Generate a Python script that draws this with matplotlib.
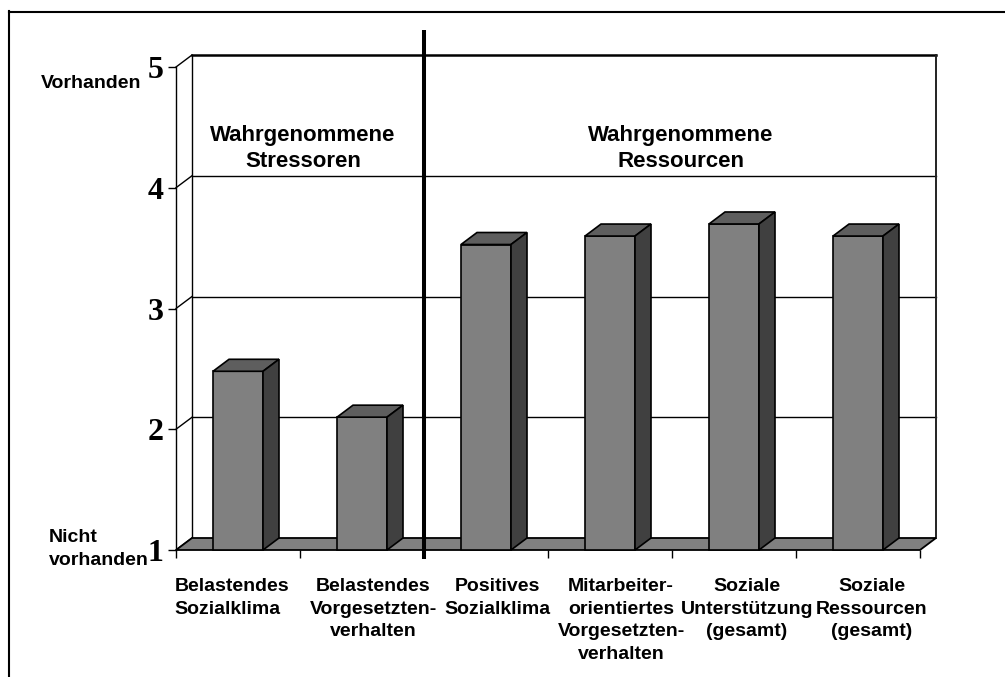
import matplotlib
matplotlib.use("Agg")
import matplotlib.pyplot as plt
from matplotlib.patches import Polygon
from matplotlib.lines import Line2D
from matplotlib.transforms import offset_copy, blended_transform_factory

# ---- data -------------------------------------------------------------
categories = [
    "Belastendes\nSozialklima",
    "Belastendes\nVorgesetzten-\nverhalten",
    "Positives\nSozialklima",
    "Mitarbeiter-\norientiertes\nVorgesetzten-\nverhalten",
    "Soziale\nUnterstützung\n(gesamt)",
    "Soziale\nRessourcen\n(gesamt)",
]
values = [2.48, 2.10, 3.53, 3.60, 3.70, 3.60]
group_titles = ["Wahrgenommene\nStressoren", "Wahrgenommene\nRessourcen"]
group_sizes = [2, 4]
y_ticks = [1, 2, 3, 4, 5]
y_tick_labels = ["1", "2", "3", "4", "5"]
scale_high = "Vorhanden"
scale_low = "Nicht\nvorhanden"

# ---- style ------------------------------------------------------------
plt.rcParams["font.family"] = ["Liberation Sans", "DejaVu Sans"]
plt.rcParams["font.weight"] = "bold"
FRONT = "#808080"
SIDE = "#404040"
TOP = "#5e5e5e"
FLOOR = "#808080"
EDGE = "black"

W, H, DPI = 1005, 677, 100
fig = plt.figure(figsize=(W / DPI, H / DPI), dpi=DPI)
fig.patch.set_facecolor("white")

# front plane of the 3-D box (pixel frame)
L_PX, R_PX, T_PX, B_PX = 176, 920, 67, 550
ax = fig.add_axes([L_PX / W, 1 - B_PX / H, (R_PX - L_PX) / W, (B_PX - T_PX) / H])
n = len(categories)
ymin, ymax = y_ticks[0], y_ticks[-1]
ax.set_xlim(0, n)
ax.set_ylim(ymin, ymax)
ax.set_facecolor("none")
for s in ax.spines.values():
    s.set_visible(False)

# depth of the box, in pixels, converted to data units
DEPTH_PX = (16, 12)
ddx = DEPTH_PX[0] * n / (R_PX - L_PX)
ddy = DEPTH_PX[1] * (ymax - ymin) / (B_PX - T_PX)

# back wall
ax.add_patch(Polygon([(ddx, ymin + ddy), (n + ddx, ymin + ddy),
                      (n + ddx, ymax + ddy), (ddx, ymax + ddy)],
                     closed=True, fc="white", ec="none", zorder=0, clip_on=False))
for v in y_ticks[1:-1]:
    ax.add_line(Line2D([ddx, n + ddx], [v + ddy, v + ddy], color=EDGE, lw=1.0,
                       zorder=1, clip_on=False))
ax.add_line(Line2D([ddx, n + ddx], [ymax + ddy, ymax + ddy], color=EDGE, lw=1.8,
                   zorder=1, clip_on=False))
ax.add_line(Line2D([n + ddx, n + ddx], [ymin + ddy, ymax + ddy], color="#222222",
                   lw=1.4, zorder=1, clip_on=False))
ax.add_line(Line2D([ddx, ddx], [ymin + ddy, ymax + ddy], color=EDGE, lw=1.0,
                   zorder=1, clip_on=False))

# left side wall: edges running back from each tick
for v in y_ticks:
    ax.add_line(Line2D([0, ddx], [v, v + ddy], color=EDGE, lw=1.0, zorder=1,
                       clip_on=False))
ax.add_line(Line2D([0, 0], [ymin, ymax], color=EDGE, lw=1.0, zorder=1,
                   clip_on=False))

# floor
ax.add_patch(Polygon([(0, ymin), (n, ymin), (n + ddx, ymin + ddy), (ddx, ymin + ddy)],
                     closed=True, fc=FLOOR, ec=EDGE, lw=1.3, zorder=2, clip_on=False))

# bars: front faces via bar(), then top and side faces
bw = 50 / 124
centers = [i + 0.5 for i in range(n)]
heights = [v - ymin for v in values]
ax.bar(centers, heights, bottom=ymin, width=bw, color=FRONT, edgecolor=EDGE,
       linewidth=1.2, zorder=4, clip_on=False)
for c, v in zip(centers, values):
    x0, x1 = c - bw / 2, c + bw / 2
    ax.add_patch(Polygon([(x0, v), (x1, v), (x1 + ddx, v + ddy), (x0 + ddx, v + ddy)],
                         closed=True, fc=TOP, ec=EDGE, lw=1.2, zorder=4, clip_on=False))
    ax.add_patch(Polygon([(x1, ymin), (x1 + ddx, ymin + ddy), (x1 + ddx, v + ddy), (x1, v)],
                         closed=True, fc=SIDE, ec=EDGE, lw=1.2, zorder=4, clip_on=False))

# axis ticks
ax.set_yticks(y_ticks)
ax.set_yticklabels(y_tick_labels, fontfamily="Liberation Serif", fontweight="bold",
                   fontsize=23)
ax.set_xticks(range(n + 1))
ax.set_xticklabels([])
ax.tick_params(axis="y", direction="out", length=5.8, width=1.0, pad=3.4, color=EDGE)
ax.tick_params(axis="x", direction="out", length=5.8, width=1.0, color=EDGE)

# category labels
label_dx = [-6, 11, 11, 11, 13, 14]
for i, (c, lab) in enumerate(zip(centers, categories)):
    tr = offset_copy(ax.transData, fig=fig, x=label_dx[i], y=-28, units="dots")
    ax.text(c, ymin, lab, transform=tr, ha="center", va="top",
            multialignment="left" if i == 0 else "center",
            fontsize=14, fontweight="bold", linespacing=1.43, clip_on=False)

# scale anchors beside the value axis
ax.text(0, ymax, scale_high,
        transform=offset_copy(ax.transData, fig=fig, x=-35, y=-21, units="dots"),
        ha="right", va="baseline", fontsize=14, fontweight="bold")
ax.text(0, ymin, scale_low,
        transform=offset_copy(ax.transData, fig=fig, x=-127, y=-15, units="dots"),
        ha="left", va="baseline", fontsize=14, fontweight="bold", linespacing=1.45)

# group titles and separator
start = 0
title_dx = [3, 9]
for k, (title, size) in enumerate(zip(group_titles, group_sizes)):
    mid = start + size / 2
    tr = offset_copy(ax.transData, fig=fig, x=title_dx[k], y=-100, units="dots")
    ax.text(mid, ymax, title, transform=tr, ha="center", va="baseline",
            fontsize=16, fontweight="bold", linespacing=1.33)
    start += size

sep_x = group_sizes[0]
sep_tr = blended_transform_factory(ax.transData, fig.transFigure)
ax.add_line(Line2D([sep_x, sep_x], [1 - 30 / H, 1 - 559 / H], transform=sep_tr,
                   color=EDGE, lw=2.9, zorder=6, clip_on=False,
                   solid_capstyle="butt"))

# outer frame (top and left edges)
fig.add_artist(Line2D([9 / W, 1], [1 - 12 / H, 1 - 12 / H], color=EDGE, lw=1.5,
                      transform=fig.transFigure))
fig.add_artist(Line2D([9 / W, 9 / W], [1 - 11 / H, 0], color=EDGE, lw=1.5,
                      transform=fig.transFigure))

fig.savefig("out.png", dpi=DPI, facecolor="white")
